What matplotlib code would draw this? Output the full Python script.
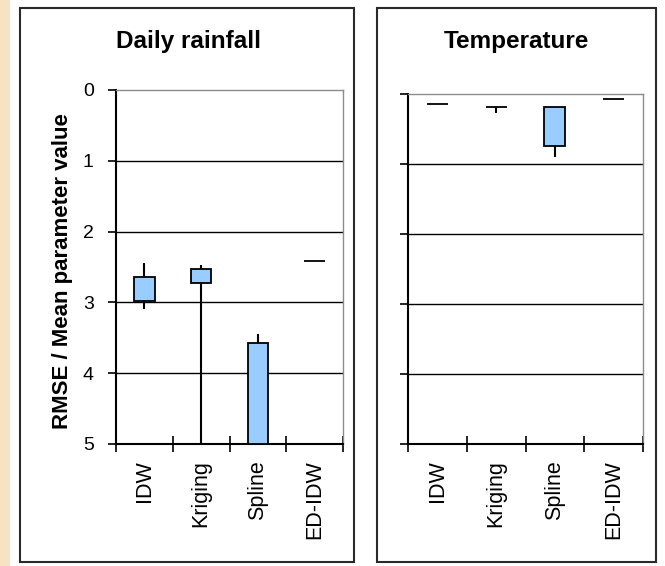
import matplotlib
matplotlib.use("Agg")
import matplotlib.pyplot as plt
from matplotlib.patches import Rectangle
import numpy as np

plt.rcParams['font.family'] = ['Liberation Sans', 'DejaVu Sans']

# ---- data ----
methods = ['IDW', 'Kriging', 'Spline', 'ED-IDW']
y_ticks = [0, 1, 2, 3, 4, 5]

# Daily rainfall (RMSE / mean parameter value)
rain_high = [2.44, 2.47, 3.45, 2.41]        # upper whisker end
rain_low = [3.09, 5.00, 5.00, 2.41]         # lower whisker end
rain_box_top = [2.64, 2.53, 3.57, 2.41]
rain_box_bottom = [2.98, 2.73, 5.00, 2.41]

# Temperature
temp_high = [0.14, 0.19, 0.19, 0.07]
temp_low = [0.14, 0.27, 0.90, 0.07]
temp_box_top = [0.14, 0.19, 0.19, 0.07]
temp_box_bottom = [0.14, 0.19, 0.74, 0.07]

W, H = 665, 566
fig = plt.figure(figsize=(W / 100, H / 100), dpi=100)
fig.patch.set_facecolor('white')

def fx(px):
    return px / W

def fy(py):
    return 1 - py / H

# beige strip on the left
fig.patches.append(Rectangle((0, 0), fx(10), 1, transform=fig.transFigure,
                             facecolor='#F7E2C3', edgecolor='none', zorder=-3))
# panel frames
for x0, x1 in [(20, 354), (377, 656)]:
    fig.patches.append(Rectangle((fx(x0), fy(562)), fx(x1 - x0), (562 - 8) / H,
                                 transform=fig.transFigure, facecolor='white',
                                 edgecolor='#2a2a2a', lw=1.5, zorder=-2))

ax1 = fig.add_axes([fx(116), fy(444), fx(343 - 116), (444 - 90) / H])
ax2 = fig.add_axes([fx(408), fy(444), fx(643 - 408), (444 - 94) / H])

def draw(ax, high, low, top, bottom, show_labels):
    x = np.arange(len(methods))
    ax.set_xlim(-0.5, len(methods) - 0.5)
    ax.set_ylim(5, 0)
    ax.patch.set_alpha(0)
    # gridlines
    ax.hlines(y_ticks[1:-1], 0, 1, transform=ax.get_yaxis_transform(),
              color='black', lw=1.0, zorder=1)
    # whiskers
    ax.vlines(x, high, low, color='black', lw=1.5, zorder=2)
    # boxes
    h = np.array(bottom) - np.array(top)
    ax.bar(x, h, bottom=top, width=0.36, color='#99CCFF',
           edgecolor='black', lw=1.3, zorder=3)
    for s in ['top', 'right']:
        ax.spines[s].set_color('#8c8c8c')
        ax.spines[s].set_linewidth(1.0)
    for s in ['left', 'bottom']:
        ax.spines[s].set_color('black')
        ax.spines[s].set_linewidth(1.5)
    ax.set_yticks(y_ticks)
    ax.tick_params(axis='y', direction='out', length=6, width=1.2,
                   pad=10, labelsize=14, labelleft=show_labels)
    ax.set_xticks(np.arange(len(methods) + 1) - 0.5)
    ax.set_xticklabels([])
    ax.tick_params(axis='x', which='major', direction='inout', length=12, width=1.2)
    ax.set_xticks(x, minor=True)
    ax.set_xticklabels(methods, minor=True, rotation=90, fontsize=15.5)
    ax.tick_params(axis='x', which='minor', length=0, pad=11.5)

draw(ax1, rain_high, rain_low, rain_box_top, rain_box_bottom, True)
draw(ax2, temp_high, temp_low, temp_box_top, temp_box_bottom, False)

fig.text(fx(189), fy(48), 'Daily rainfall', ha='center', va='baseline',
         fontsize=17.5, fontweight='bold')
fig.text(fx(516), fy(48), 'Temperature', ha='center', va='baseline',
         fontsize=17.5, fontweight='bold')
fig.text(fx(63), fy(271), 'RMSE / Mean parameter value', rotation=90,
         ha='center', va='center', fontsize=16, fontweight='bold')

fig.savefig('out.png', dpi=100)
